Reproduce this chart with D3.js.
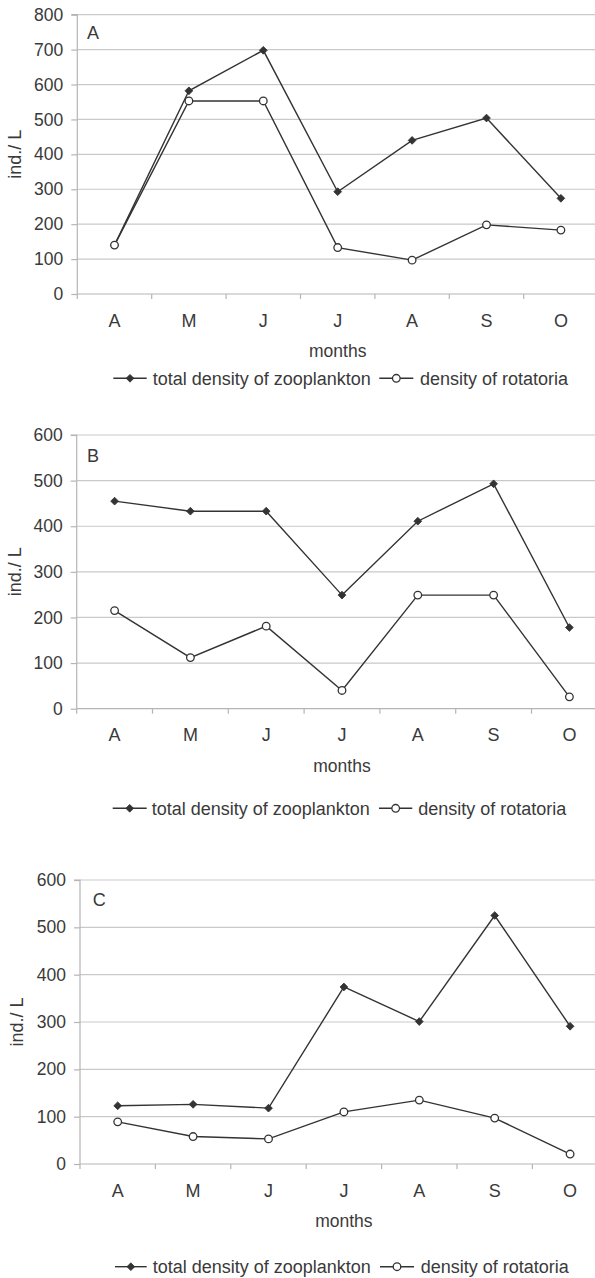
<!DOCTYPE html>
<html>
<head>
<meta charset="utf-8">
<script src="https://cdn.jsdelivr.net/npm/d3@7"></script>
<style>
  html, body { margin: 0; padding: 0; background: #fff; }
  svg { display: block; }
  text { font-family: "Liberation Sans", Arial, sans-serif; fill: #3a3a3a; }
</style>
</head>
<body>
<svg id="chart" width="595" height="1278"></svg>
<script>
// Month sequence (April – October)
const months = ["A", "M", "J", "J", "A", "S", "O"];

// Panel A
const totalA = [140, 582, 698, 293, 440, 504, 274];
const rotA   = [140, 553, 553, 133, 97, 198, 183];
const ticksA = [0, 100, 200, 300, 400, 500, 600, 700, 800];

// Panel B
const totalB = [455, 433, 433, 249, 411, 493, 178];
const rotB   = [215, 112, 181, 40, 249, 249, 26];
const ticksB = [0, 100, 200, 300, 400, 500, 600];

// Panel C
const totalC = [123, 126, 118, 374, 301, 525, 291];
const rotC   = [89, 58, 53, 110, 135, 97, 21];
const ticksC = [0, 100, 200, 300, 400, 500, 600];

const seriesNames = ["total density of zooplankton", "density of rotatoria"];
const yTitle = "ind./ L";
const xTitle = "months";

// Layout for each panel
const panels = [
  { letter: "A", total: totalA, rot: rotA, ticks: ticksA,
    left: 77.3, step: 74.4, top: 14.7, bottom: 294, letterX: 87, letterY: 39, yTitleX: 15,
    legendY: 378.3, leg: [[113.3, 146.7, 152.7], [379.3, 413.3, 420]] },
  { letter: "B", total: totalB, rot: rotB, ticks: ticksB,
    left: 76.7, step: 75.8, top: 435, bottom: 708.7, letterX: 87, letterY: 461.7, yTitleX: 14.5,
    legendY: 808.3, leg: [[112.7, 146.7, 151.7], [379, 412.3, 418.3]] },
  { letter: "C", total: totalC, rot: rotC, ticks: ticksC,
    left: 80, step: 75.4, top: 880, bottom: 1164, letterX: 92.7, letterY: 905.7, yTitleX: 16.7,
    legendY: 1266.7, leg: [[115, 146.7, 152.7], [380, 414, 420.7]] }
];

const FONT = 17.5;
const LEG_FONT = 18;
const LINE = "#333333";
const GRID = "#c9c9c9";
const AXIS = "#b5b5b5";

const svg = d3.select("#chart");
// square marker turned 45° to make an even diamond
const diamond = d3.symbol().type(d3.symbolSquare).size(30);

function drawDiamond(g, x, y) {
  g.append("path").attr("d", diamond).attr("transform", `translate(${x},${y}) rotate(45)`)
    .attr("fill", LINE).attr("stroke", LINE).attr("stroke-width", 0.8);
}
function drawCircle(g, x, y) {
  g.append("circle").attr("cx", x).attr("cy", y).attr("r", 3.8)
    .attr("fill", "#fff").attr("stroke", LINE).attr("stroke-width", 1.3);
}

panels.forEach(p => {
  const g = svg.append("g");
  const idx = d3.range(months.length);
  const right = p.left + p.step * months.length;

  const x = d3.scaleBand().domain(idx).range([p.left, right]).paddingInner(0).paddingOuter(0);
  const y = d3.scaleLinear().domain([0, d3.max(p.ticks)]).range([p.bottom, p.top]);
  const cx = i => x(i) + x.bandwidth() / 2;

  // horizontal gridlines
  g.selectAll(".grid").data(p.ticks.filter(t => t > 0)).join("line")
    .attr("x1", p.left).attr("x2", right)
    .attr("y1", d => y(d)).attr("y2", d => y(d))
    .attr("stroke", GRID).attr("stroke-width", 1.2);

  // y axis with outward ticks
  const yAxis = d3.axisLeft(y).tickValues(p.ticks).tickSize(6).tickPadding(8).tickFormat(d3.format("d"));
  const ya = g.append("g").attr("transform", `translate(${p.left},0)`).call(yAxis);
  ya.attr("font-family", null).attr("font-size", null);
  ya.select(".domain").attr("stroke", AXIS).attr("stroke-width", 1.2).attr("d", `M-6,${p.top}H0V${p.bottom}`);
  ya.selectAll(".tick line").attr("stroke", AXIS).attr("stroke-width", 1.2);
  ya.selectAll(".tick text").attr("font-size", FONT).attr("fill", "#3a3a3a");

  // x axis: baseline, ticks at category boundaries, labels centred in bands
  g.append("line").attr("x1", p.left).attr("x2", right).attr("y1", p.bottom).attr("y2", p.bottom)
    .attr("stroke", AXIS).attr("stroke-width", 1.2);
  g.selectAll(".xt").data(idx.concat([months.length])).join("line")
    .attr("x1", d => d < months.length ? x(d) : right).attr("x2", d => d < months.length ? x(d) : right)
    .attr("y1", p.bottom).attr("y2", p.bottom + 5)
    .attr("stroke", AXIS).attr("stroke-width", 1.2);
  g.selectAll(".xl").data(idx).join("text")
    .attr("x", d => cx(d)).attr("y", p.bottom + 32.5)
    .attr("text-anchor", "middle").attr("font-size", LEG_FONT)
    .text(d => months[d]);

  // axis titles
  g.append("text").attr("x", p.left + p.step * 3.5).attr("y", p.bottom + 63)
    .attr("text-anchor", "middle").attr("font-size", FONT).text(xTitle);
  g.append("text")
    .attr("transform", `translate(${p.yTitleX + 6},${(p.top + p.bottom) / 2}) rotate(-90)`)
    .attr("text-anchor", "middle").attr("font-size", LEG_FONT).text(yTitle);

  // panel letter
  g.append("text").attr("x", p.letterX).attr("y", p.letterY).attr("font-size", LEG_FONT).text(p.letter);

  // series lines
  const line = d3.line().x((d, i) => cx(i)).y(d => y(d));
  g.append("path").datum(p.rot).attr("d", line).attr("fill", "none")
    .attr("stroke", LINE).attr("stroke-width", 1.4);
  g.append("path").datum(p.total).attr("d", line).attr("fill", "none")
    .attr("stroke", LINE).attr("stroke-width", 1.4);
  p.total.forEach((v, i) => drawDiamond(g, cx(i), y(v)));
  p.rot.forEach((v, i) => drawCircle(g, cx(i), y(v)));

  // legend
  p.leg.forEach((l, k) => {
    g.append("line").attr("x1", l[0]).attr("x2", l[1]).attr("y1", p.legendY).attr("y2", p.legendY)
      .attr("stroke", LINE).attr("stroke-width", 1.4);
    const mx = (l[0] + l[1]) / 2;
    if (k === 0) drawDiamond(g, mx, p.legendY); else drawCircle(g, mx, p.legendY);
    g.append("text").attr("x", l[2]).attr("y", p.legendY + 6.3).attr("font-size", LEG_FONT).text(seriesNames[k]);
  });
});
</script>
</body>
</html>
